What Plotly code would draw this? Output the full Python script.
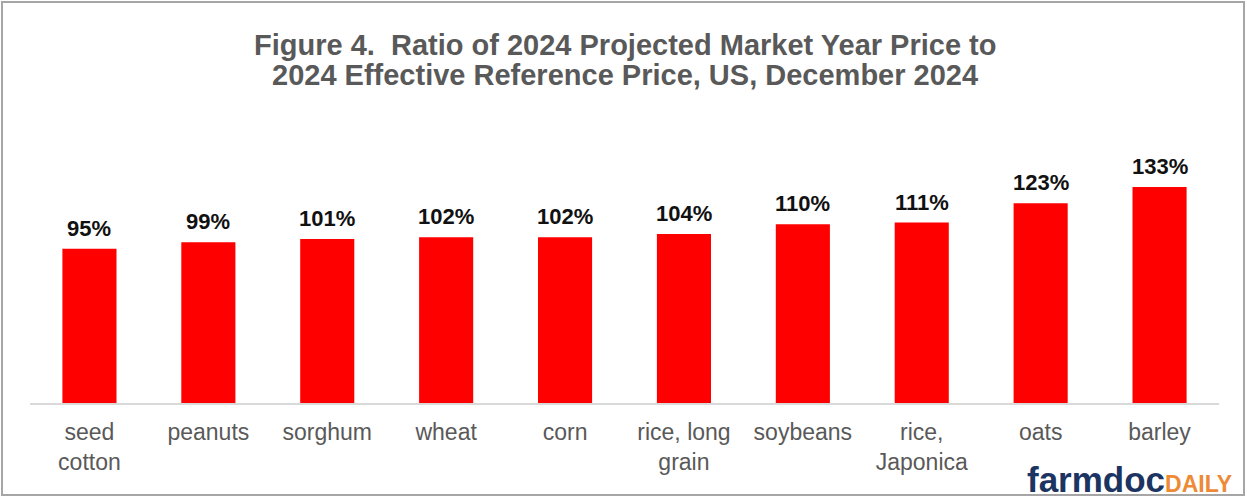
import plotly.graph_objects as go

# data
crops = ["seed<br>cotton", "peanuts", "sorghum", "wheat", "corn",
         "rice, long<br>grain", "soybeans", "rice,<br>Japonica", "oats", "barley"]
ratio = [0.95, 0.99, 1.01, 1.02, 1.02, 1.04, 1.10, 1.11, 1.23, 1.33]

title_lines = ["Figure 4.  Ratio of 2024 Projected Market Year Price to",
               "2024 Effective Reference Price, US, December 2024"]

W, H = 1247, 498
L, R, T, B = 30, 28, 143, 95
pw, ph = W - L - R, H - T - B

def px_x(x):
    return (x - L) / pw

def px_y(y):
    return (H - B - y) / ph

fig = go.Figure(go.Bar(
    x=crops, y=ratio,
    marker=dict(color="#ff0000", line=dict(width=0)),
))

# value labels sitting a little above each bar
for c, v in zip(crops, ratio):
    fig.add_annotation(
        x=c, y=v, text="<b>{:.0%}</b>".format(v),
        xanchor="center", yanchor="bottom", yshift=6, showarrow=False,
        font=dict(family="Liberation Sans, Arial", size=22, color="#111111"),
    )

fig.update_layout(
    width=W, height=H,
    margin=dict(l=L, r=R, t=T, b=B),
    paper_bgcolor="white", plot_bgcolor="white",
    bargap=0.545,
    showlegend=False,
    font=dict(family="Liberation Sans, Arial", color="#595959"),
    xaxis=dict(
        showline=True, linecolor="#d9d9d9", linewidth=2,
        ticks="", tickfont=dict(size=23, color="#595959"),
        ticklabelstandoff=7,
    ),
    yaxis=dict(range=[0, 1.6], visible=False),
)

# title, one annotation per line to keep the tight line spacing
for line, ypix in zip(title_lines, [45, 75]):
    fig.add_annotation(
        text="<b>" + line + "</b>",
        xref="paper", yref="paper", x=px_x(625), y=px_y(ypix),
        xanchor="center", yanchor="middle", showarrow=False,
        font=dict(size=29, color="#595959"),
    )

# logo text
fig.add_annotation(
    text="<b><span style='color:#1b3461'>farmdoc</span><span style='color:#ee8a35;font-size:23px'>DAILY</span></b>",
    xref="paper", yref="paper", x=px_x(1234), y=px_y(479),
    xanchor="right", yanchor="middle", showarrow=False,
    font=dict(size=35, family="Liberation Sans, Arial"),
)

# outer frame
fig.add_shape(
    type="rect", xref="paper", yref="paper",
    x0=px_x(2), x1=px_x(1244), y0=px_y(2), y1=px_y(495),
    line=dict(color="#a6a6a6", width=2),
)

fig.write_html("out.html", config={"displayModeBar": False},
               post_script="document.body.style.margin='0';")
